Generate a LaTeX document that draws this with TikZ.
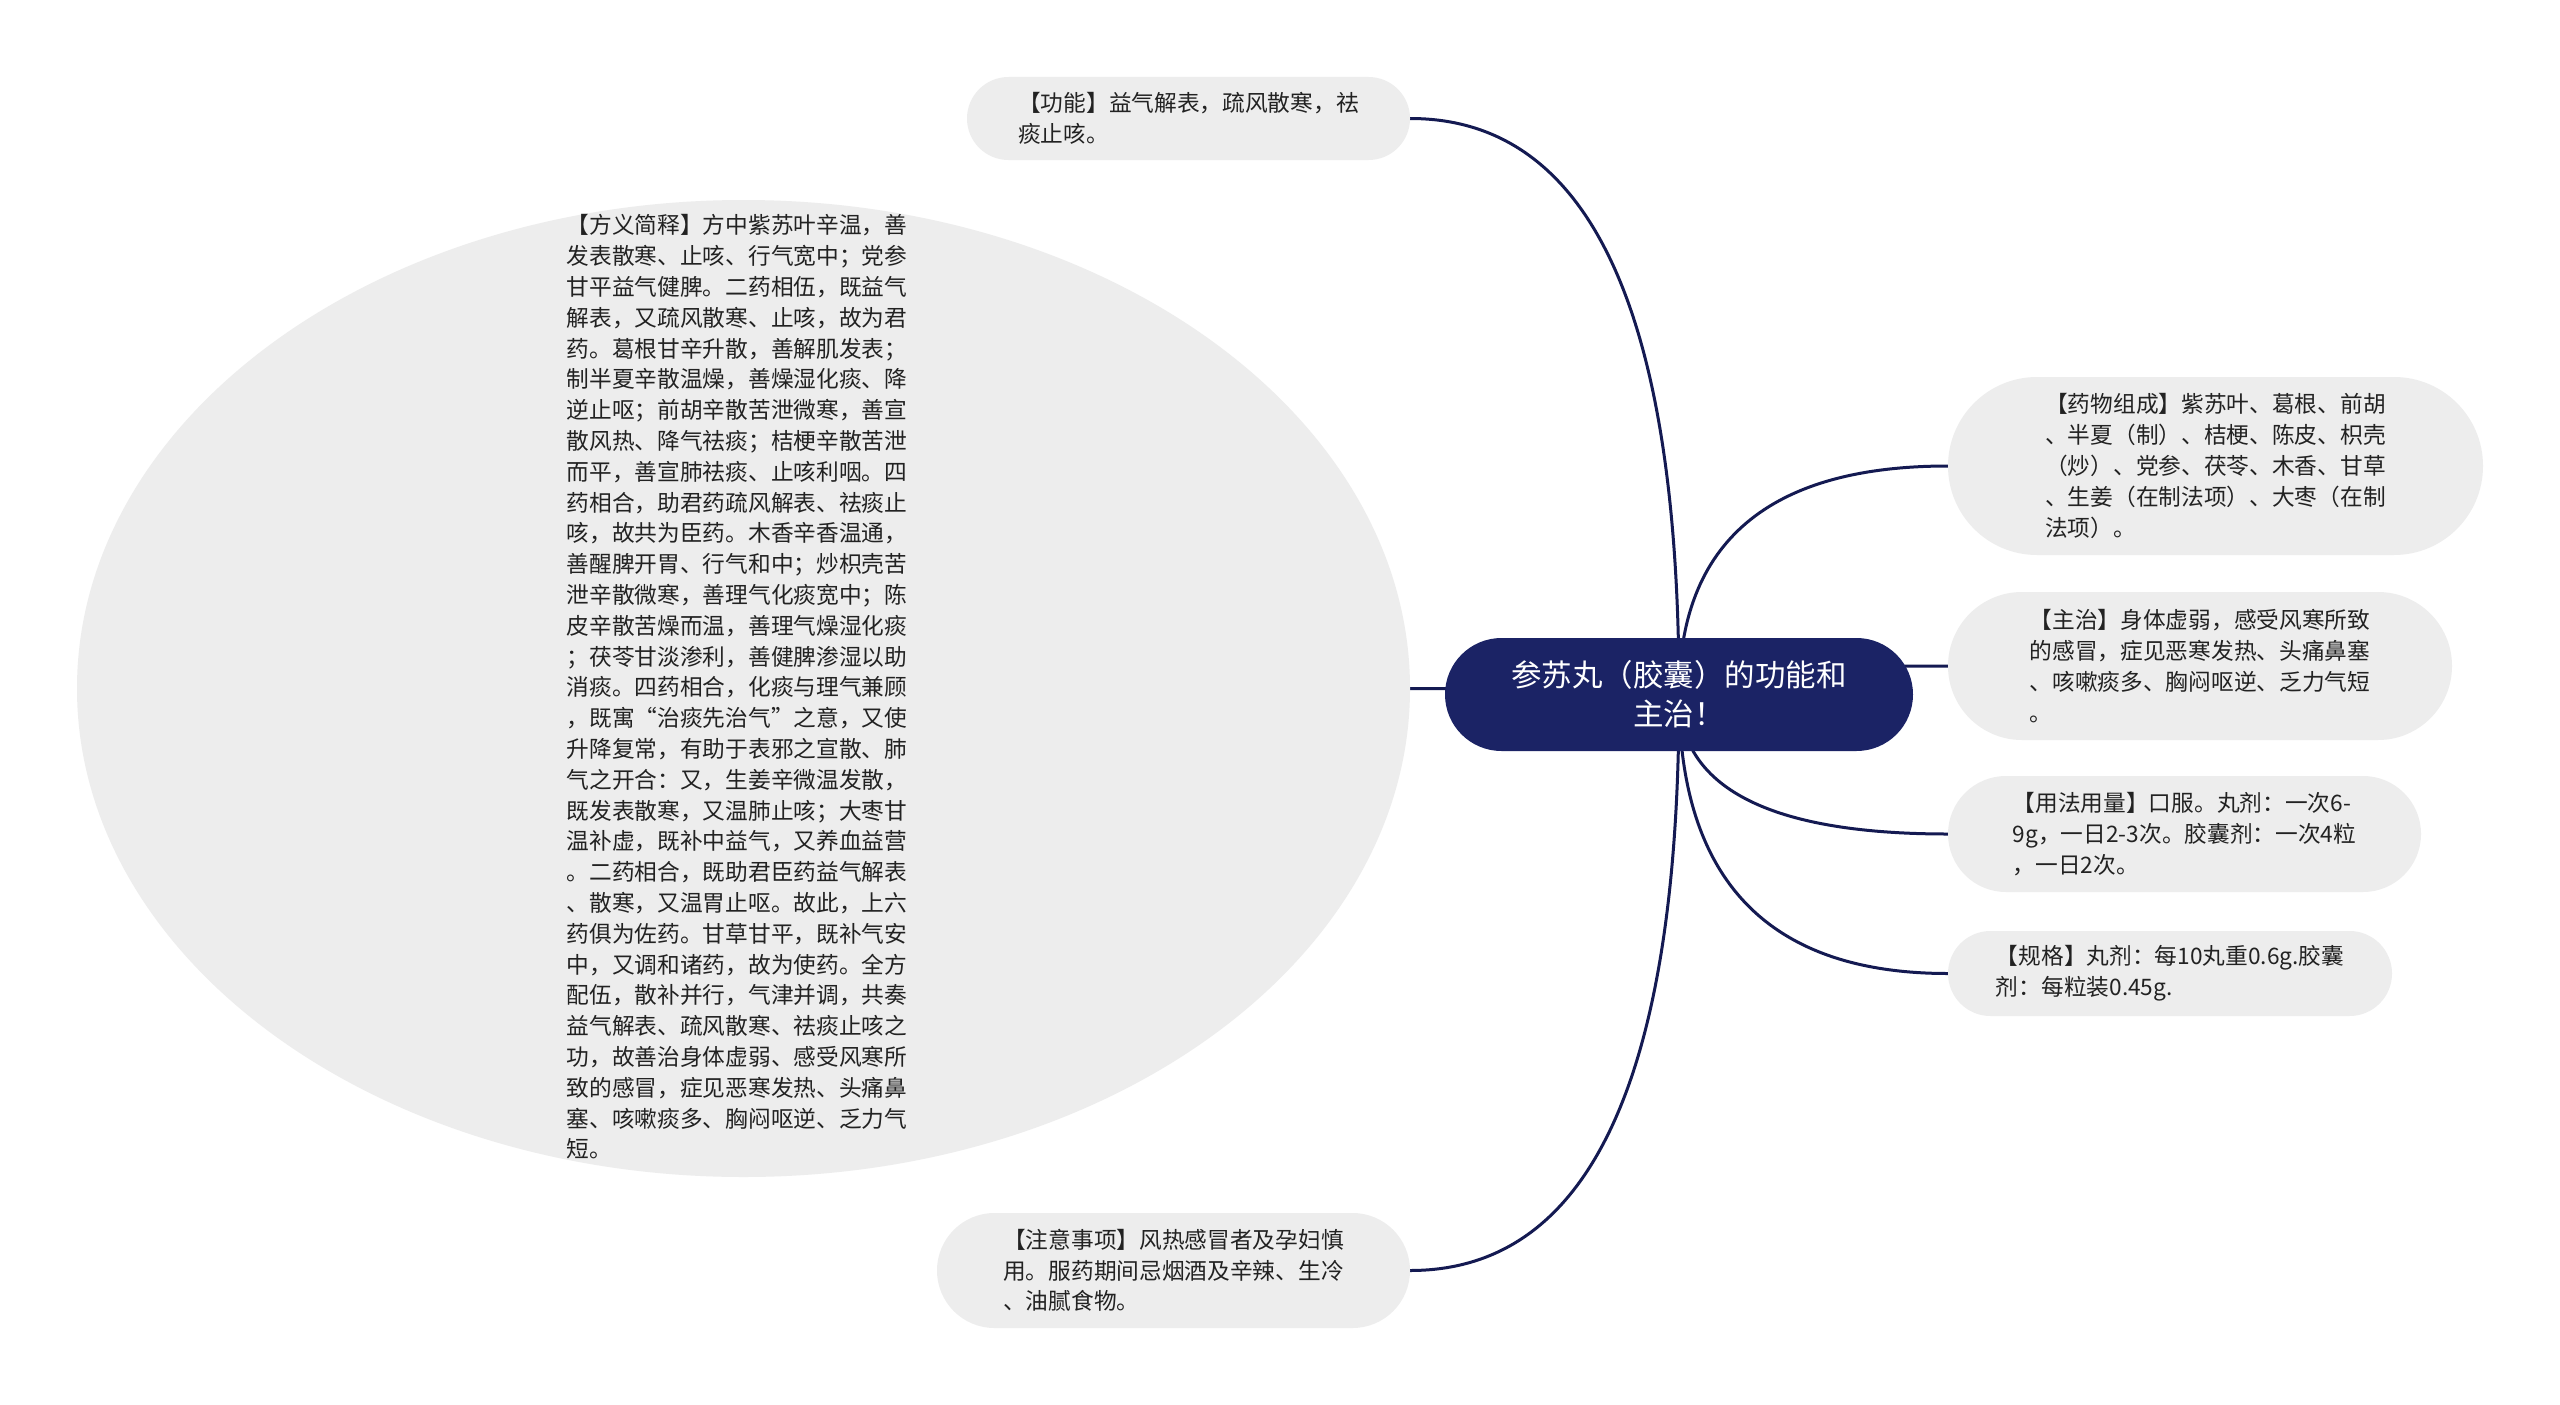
\documentclass[tikz,border=0pt]{standalone}
\usepackage{fontspec}
\setmainfont{Noto Sans CJK SC}
\usetikzlibrary{shapes.geometric,calc}
\definecolor{navy}{RGB}{27,35,101}
\definecolor{linec}{RGB}{20,26,82}
\definecolor{pillgray}{RGB}{237,237,237}
\definecolor{txt}{RGB}{34,34,34}
\pgfdeclarelayer{bg}
\pgfdeclarelayer{canvas}
\pgfsetlayers{canvas,bg,main}
\newcommand\mmconn[2]{%
  \coordinate (k) at (c.center |- #1.#2);
  \draw[conn] (c.center) .. controls ($(c.center)!0.6667!(k)$) and ($(#1.#2)!0.6667!(k)$) .. (#1.#2);}
\tikzset{
  conn/.style={draw=linec, line width=3pt},
  pill/.style={fill=pillgray, draw=none, inner sep=0pt, align=left, text=txt,
    font=\fontsize{22.7pt}{30.8pt}\selectfont},
  bodytext/.style={inner sep=0pt, align=left, text=txt,
    font=\fontsize{22.7pt}{30.8pt}\selectfont},
  rootnode/.style={fill=navy, draw=none, text=white, inner sep=0pt, align=center,
    font=\fontsize{30.5pt}{39pt}\selectfont,
    minimum width=468pt, minimum height=113pt, rounded corners=56.5pt}
}
\begin{document}
\begin{tikzpicture}[x=1pt,y=-1pt]
\begin{pgfonlayer}{canvas}
\fill[white] (0,0) rectangle (2560,1405);
\end{pgfonlayer}
\useasboundingbox (0,0) rectangle (2560,1405);

% central node
\node[rootnode] (c) at (1679,694.5) {参苏丸（胶囊）的功能和\\主治！};

% big ellipse
\node[ellipse, fill=pillgray, draw=none, minimum width=1333pt, minimum height=977pt, inner sep=0pt] (e) at (743.5,688.5) {};
\node[bodytext] (et) at (737,687) {【方义简释】方中紫苏叶辛温，善\\
发表散寒、止咳、行气宽中；党参\\
甘平益气健脾。二药相伍，既益气\\
解表，又疏风散寒、止咳，故为君\\
药。葛根甘辛升散，善解肌发表；\\
制半夏辛散温燥，善燥湿化痰、降\\
逆止呕；前胡辛散苦泄微寒，善宣\\
散风热、降气祛痰；桔梗辛散苦泄\\
而平，善宣肺祛痰、止咳利咽。四\\
药相合，助君药疏风解表、祛痰止\\
咳，故共为臣药。木香辛香温通，\\
善醒脾开胃、行气和中；炒枳壳苦\\
泄辛散微寒，善理气化痰宽中；陈\\
皮辛散苦燥而温，善理气燥湿化痰\\
；茯苓甘淡渗利，善健脾渗湿以助\\
消痰。四药相合，化痰与理气兼顾\\
，既寓“治痰先治气”之意，又使\\
升降复常，有助于表邪之宣散、肺\\
气之开合：又，生姜辛微温发散，\\
既发表散寒，又温肺止咳；大枣甘\\
温补虚，既补中益气，又养血益营\\
。二药相合，既助君臣药益气解表\\
、散寒，又温胃止呕。故此，上六\\
药俱为佐药。甘草甘平，既补气安\\
中，又调和诸药，故为使药。全方\\
配伍，散补并行，气津并调，共奏\\
益气解表、疏风散寒、祛痰止咳之\\
功，故善治身体虚弱、感受风寒所\\
致的感冒，症见恶寒发热、头痛鼻\\
塞、咳嗽痰多、胸闷呕逆、乏力气\\
短。};

% pills
\node[pill, minimum width=443pt, minimum height=83pt, rounded corners=41.5pt] (gn) at (1188.5,118.5)
  {【功能】益气解表，疏风散寒，祛\\痰止咳。};
\node[pill, minimum width=535pt, minimum height=178pt, rounded corners=89pt] (yw) at (2215.5,466)
  {【药物组成】紫苏叶、葛根、前胡\\、半夏（制）、桔梗、陈皮、枳壳\\（炒）、党参、茯苓、木香、甘草\\、生姜（在制法项）、大枣（在制\\法项）。};
\node[pill, minimum width=504pt, minimum height=148pt, rounded corners=74pt] (zz) at (2200,666)
  {【主治】身体虚弱，感受风寒所致\\的感冒，症见恶寒发热、头痛鼻塞\\、咳嗽痰多、胸闷呕逆、乏力气短\\。};
\node[pill, minimum width=473pt, minimum height=116pt, rounded corners=58pt] (yf) at (2184.5,834)
  {【用法用量】口服。丸剂：一次6-\\9g，一日2-3次。胶囊剂：一次4粒\\，一日2次。};
\node[pill, minimum width=444pt, minimum height=85pt, rounded corners=42.5pt] (gg) at (2170,973.5)
  {【规格】丸剂：每10丸重0.6g.胶囊\\剂：每粒装0.45g.};
\node[pill, minimum width=473pt, minimum height=115pt, rounded corners=57.5pt] (zy) at (1173.5,1270.5)
  {【注意事项】风热感冒者及孕妇慎\\用。服药期间忌烟酒及辛辣、生冷\\、油腻食物。};

\begin{pgfonlayer}{bg}
\mmconn{gn}{east}
\mmconn{e}{east}
\mmconn{zy}{east}
\mmconn{yw}{west}
\mmconn{zz}{west}
\mmconn{yf}{west}
\mmconn{gg}{west}
\end{pgfonlayer}
\end{tikzpicture}
\end{document}
